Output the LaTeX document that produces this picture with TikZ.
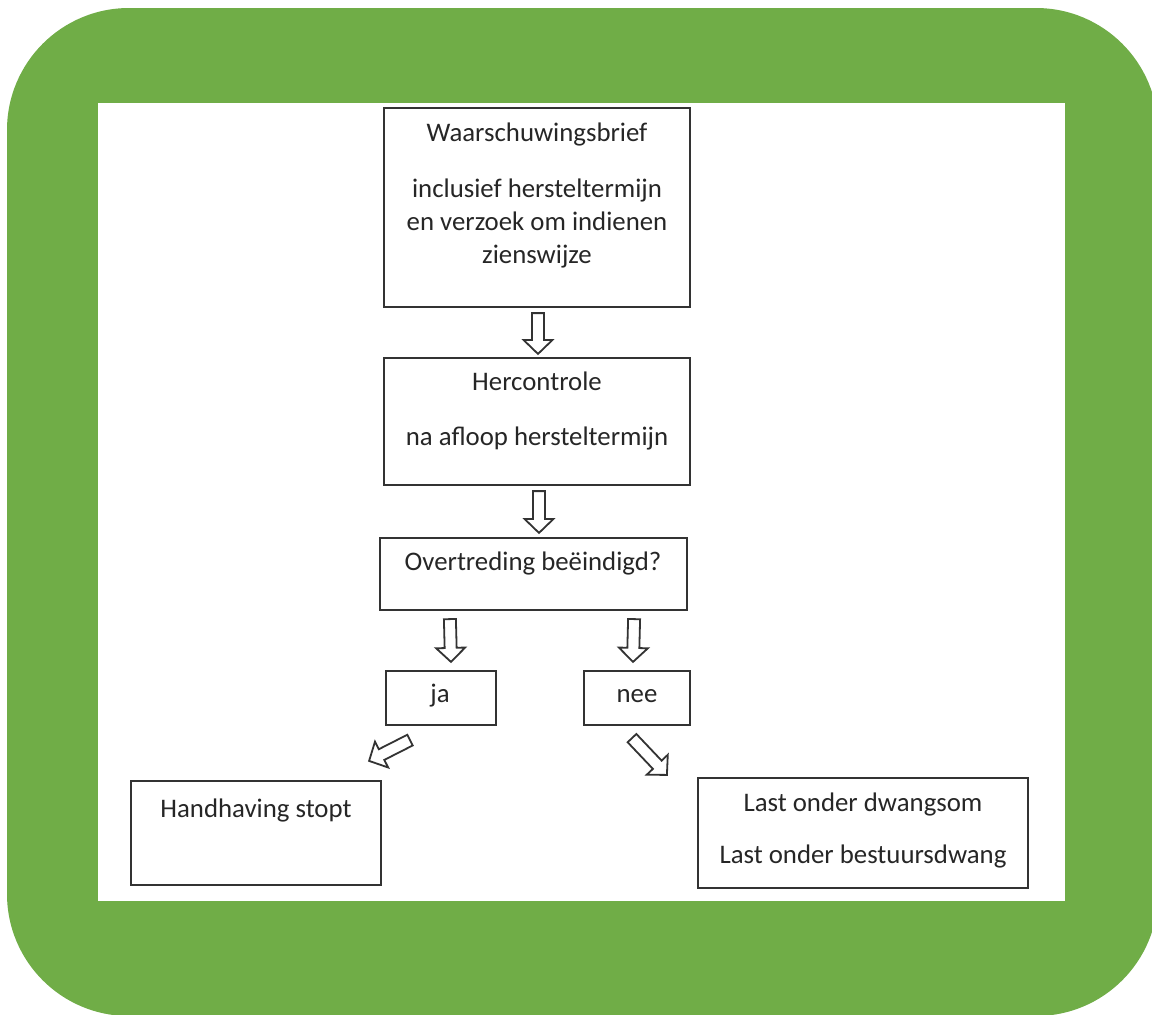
\documentclass[tikz,border=0pt]{standalone}
\usepackage{fontspec}
\setmainfont{Carlito}
\usetikzlibrary{calc, positioning}
\definecolor{officegreen}{RGB}{112,173,71}

% hollow block arrow between two points
\newcommand{\hollowarrow}[2]{%
  \coordinate (ha-s) at #1;
  \coordinate (ha-e) at #2;
  \draw[blockarrow] ($(ha-s)!3pt!90:(ha-e)$)
    -- ($(ha-e)!7pt!(ha-s)!3pt!90:(ha-e)$)
    -- ($(ha-e)!7pt!(ha-s)!7.25pt!90:(ha-e)$)
    -- (ha-e)
    -- ($(ha-e)!7pt!(ha-s)!7.25pt!-90:(ha-e)$)
    -- ($(ha-e)!7pt!(ha-s)!3pt!-90:(ha-e)$)
    -- ($(ha-s)!3pt!-90:(ha-e)$)
    -- cycle;
}

\begin{document}
\begin{tikzpicture}[
      x=0.5pt, y=-0.5pt,
      box/.style   = {draw=black!80, line width=1.1pt, inner sep=0pt},
      txt/.style   = {align=center, inner sep=0pt, anchor=base, text=black!85,
                      font=\fontsize{13.4pt}{16.5pt}\selectfont},
      blockarrow/.style = {draw=black!80, line width=0.9pt, fill=white,
                      line join=miter},
    ]

    \clip (0,0) rectangle (1152,1014);
    \fill[white] (0,0) rectangle (1152,1014);
    \fill[officegreen, rounded corners=61pt] (7,8) rectangle (1158,1016);
    \fill[white] (98,103) rectangle (1065,901);

    % boxes
    \node[box, minimum width=153pt, minimum height=99.5pt] (brief)
      at (537,207.5) {};
    \node[box, minimum width=153pt, minimum height=63.5pt] (hercontrole)
      at (537,421.5) {};
    \node[box, minimum width=153.5pt, minimum height=36pt] (overtreding)
      at (533.5,574) {};
    \node[box, minimum width=55pt, minimum height=27pt] (ja)  at (441,698) {};
    \node[box, minimum width=53pt, minimum height=27pt] (nee) at (637,698) {};
    \node[box, minimum width=125pt, minimum height=52pt] (handhaving)
      at (256,833) {};
    \node[box, minimum width=165pt, minimum height=55pt] (last)
      at (863,833) {};

    % texts (base = last line)
    \node[txt] (brief-txt) at (537,263)
      {Waarschuwingsbrief\\[11.5pt]inclusief hersteltermijn\\en verzoek om indienen\\zienswijze};
    \node[txt] (hercontrole-txt) at (537,445)
      {Hercontrole\\[11pt]na afloop hersteltermijn};
    \node[txt] (overtreding-txt) at (533,570) {Overtreding beëindigd?};
    \node[txt] (ja-txt)  at (440,702) {ja};
    \node[txt] (nee-txt) at (637,702) {nee};
    \node[txt] (handhaving-txt) at (256,817) {Handhaving stopt};
    \node[txt] (last-txt) at (863,863)
      {Last onder dwangsom\\[9.5pt]Last onder bestuursdwang};

    % arrows
    \hollowarrow{([shift={(1,5)}]brief.south)}{([shift={(1,-3)}]hercontrole.north)}
    \hollowarrow{([shift={(2,5)}]hercontrole.south)}{([shift={(5.5,-4)}]overtreding.north)}
    \hollowarrow{([shift={(71,8)}]overtreding.south west)}{([shift={(10,-8)}]ja.north)}
    \hollowarrow{([shift={(-54,8)}]overtreding.south east)}{([shift={(-4,-8)}]nee.north)}
    \hollowarrow{([shift={(-31,14)}]ja.south)}{([shift={(-13,-19)}]handhaving.north east)}
    \hollowarrow{([shift={(-5,12)}]nee.south)}{([shift={(-30,-2)}]last.north west)}

  \end{tikzpicture}
\end{document}
